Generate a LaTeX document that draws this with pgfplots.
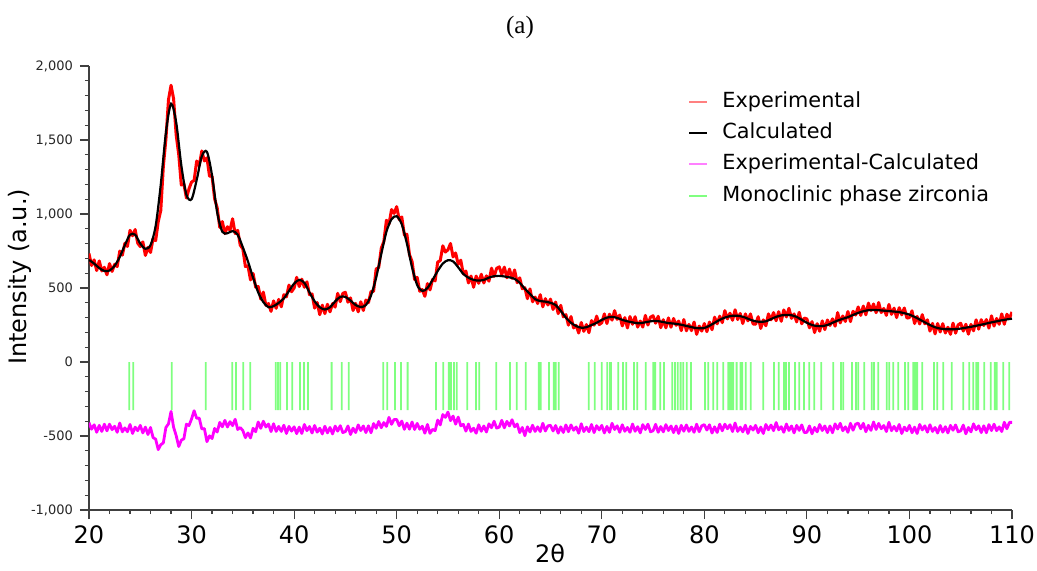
\documentclass[border=0pt]{standalone}
\usepackage{pgfplots}
\pgfplotsset{compat=1.18}
\usepackage{pgfplotstable}
\usepackage{fontspec}
\setmainfont{DejaVu Sans}
\newfontfamily\seriffont{Liberation Serif}

\pgfplotstableread{
x y
20 690
20.5 665
21 635
21.5 615
22 618
22.5 650
23 710
23.5 790
24 860
24.5 860
25 800
25.5 765
26 790
26.5 920
27 1200
27.5 1550
28 1745
28.5 1620
29 1330
29.5 1130
30 1100
30.5 1230
31 1390
31.5 1420
32 1260
32.5 1010
33 880
33.5 870
34 885
34.5 860
35 775
35.5 680
36 570
36.5 470
37 405
37.5 370
38 378
38.5 400
39 430
39.5 480
40 530
40.5 555
41 535
41.5 470
42 410
42.5 370
43 355
43.5 370
44 410
44.5 440
45 440
45.5 415
46 385
46.5 372
47 385
47.5 450
48 570
48.5 730
49 880
49.5 965
50 985
50.5 930
51 800
51.5 640
52 520
52.5 480
53 500
53.5 555
54 615
54.5 665
55 688
55.5 680
56 640
56.5 595
57 570
57.5 555
58 550
58.5 555
59 570
59.5 580
60 582
60.5 578
61 572
61.5 562
62 535
62.5 495
63 460
63.5 425
64 412
64.5 408
65 400
65.5 385
66 345
66.5 300
67 265
67.5 243
68 232
68.5 235
69 250
69.5 265
70 285
70.5 300
71 305
71.5 298
72 285
72.5 275
73 268
73.5 262
74 265
74.5 272
75 277
75.5 276
76 270
76.5 263
77 260
77.5 255
78 248
78.5 240
79 232
79.5 228
80 230
80.5 245
81 265
81.5 285
82 300
82.5 310
83 313
83.5 310
84 300
84.5 285
85 275
85.5 272
86 275
86.5 290
87 305
87.5 315
88 318
88.5 316
89 305
89.5 285
90 265
90.5 250
91 243
91.5 243
92 250
92.5 265
93 280
93.5 292
94 303
94.5 318
95 332
95.5 343
96 350
96.5 352
97 350
97.5 347
98 344
98.5 341
99 337
99.5 330
100 320
100.5 305
101 287
101.5 268
102 250
102.5 235
103 226
103.5 222
104 221
104.5 222
105 226
105.5 232
106 238
106.5 245
107 252
107.5 260
108 268
108.5 275
109 282
109.5 288
110 293
}\calctable

\pgfplotstableread{
x e d
20 733 -410
20.25 652 -454
20.5 690 -424
20.75 618 -475
21 683 -428
21.25 615 -469
21.5 640 -420
21.75 589 -465
22 665 -420
22.25 612 -457
22.5 660 -434
22.75 645 -475
23 750 -412
23.25 722 -472
23.5 803 -445
23.75 781 -471
24 890 -422
24.25 853 -483
24.5 895 -440
24.75 803 -464
25 780 -428
25.25 812 -479
25.5 720 -440
25.75 775 -490
26 740 -442
26.25 835 -511
26.5 820 -521
26.75 948 -592
27 1024 -559
27.25 1322 -546
27.5 1505 -442
27.75 1772 -418
28 1870 -334
28.25 1778 -441
28.5 1534 -497
28.75 1402 -571
29 1196 -528
29.25 1204 -519
29.5 1108 -420
29.75 1170 -429
30 1216 -385
30.25 1227 -329
30.5 1358 -380
30.75 1326 -379
31 1426 -452
31.25 1358 -450
31.5 1380 -538
31.75 1256 -499
32 1254 -517
32.25 1103 -449
32.5 1042 -473
32.75 910 -408
33 949 -438
33.25 868 -394
33.5 914 -439
33.75 890 -403
34 968 -430
34.25 868 -387
34.5 890 -456
34.75 789 -443
35 765 -463
35.25 645 -511
35.5 650 -479
35.75 555 -513
36 598 -448
36.25 506 -471
36.5 510 -405
36.75 425 -448
37 472 -400
37.25 383 -439
37.5 395 -419
37.75 342 -470
38 413 -417
38.25 363 -469
38.5 423 -435
38.75 373 -469
39 455 -427
39.25 440 -483
39.5 520 -435
39.75 475 -467
40 500 -438
40.25 572 -484
40.5 510 -440
40.75 560 -483
41 505 -422
41.25 542 -464
41.5 455 -436
41.75 460 -480
42 364 -429
42.25 402 -474
42.5 320 -447
42.75 384 -486
43 327 -434
43.25 390 -479
43.5 339 -442
43.75 395 -486
44 371 -433
44.25 464 -467
44.5 408 -430
44.75 464 -477
45 471 -470
45.25 404 -432
45.5 433 -490
45.75 348 -447
46 396 -477
46.25 339 -425
46.5 407 -463
46.75 348 -432
47 419 -477
47.25 401 -431
47.5 477 -478
47.75 477 -416
48 629 -448
48.25 638 -402
48.5 769 -444
48.75 814 -409
49 958 -435
49.25 931 -374
49.5 1030 -421
49.75 1004 -388
50 1050 -388
50.25 962 -431
50.5 980 -399
50.75 858 -455
51 863 -413
51.25 725 -454
51.5 680 -405
51.75 557 -456
52 572 -415
52.25 478 -454
52.5 490 -434
52.75 444 -481
53 530 -422
53.25 487 -482
53.5 558 -455
53.75 548 -464
54 675 -392
54.25 685 -425
54.5 785 -355
54.75 743 -374
55 758 -338
55.25 801 -396
55.5 710 -365
55.75 737 -420
56 660 -372
56.25 688 -431
56.5 595 -421
56.75 615 -467
57 534 -419
57.25 581 -469
57.5 505 -447
57.75 581 -481
58 532 -424
58.25 593 -468
58.5 534 -432
58.75 582 -473
59 546 -418
59.25 634 -444
59.5 578 -400
59.75 633 -447
60 643 -440
60.25 592 -394
60.5 641 -445
60.75 569 -401
61 628 -432
61.25 565 -390
61.5 622 -438
61.75 536 -419
62 569 -477
62.25 495 -442
62.5 502 -498
62.75 428 -438
63 494 -473
63.25 407 -427
63.5 439 -469
63.75 395 -438
64 455 -470
64.25 373 -414
64.5 428 -466
64.75 385 -431
65 425 -428
65.25 355 -466
65.5 405 -429
65.75 327 -481
66 383 -438
66.25 305 -476
66.5 320 -425
66.75 249 -471
67 307 -425
67.25 230 -461
67.5 248 -439
67.75 196 -481
68 267 -417
68.25 207 -470
68.5 253 -440
68.75 198 -471
69 280 -422
69.25 249 -477
69.5 310 -430
69.75 253 -459
70 265 -428
70.25 325 -479
70.5 260 -435
70.75 323 -475
71 283 -414
71.25 347 -456
71.5 288 -431
71.75 317 -475
72 244 -424
72.25 300 -468
72.5 230 -442
72.75 307 -475
73 255 -419
73.25 306 -468
73.5 236 -437
73.75 277 -479
74 236 -423
74.25 315 -456
74.5 250 -420
74.75 303 -471
75 313 -465
75.25 262 -421
75.5 309 -475
75.75 232 -436
76 286 -472
76.25 231 -423
76.5 298 -463
76.75 235 -432
77 294 -477
77.25 248 -432
77.5 277 -483
77.75 212 -428
78 287 -468
78.25 211 -425
78.5 254 -469
78.75 212 -439
79 270 -475
79.25 187 -420
79.5 243 -471
79.75 209 -431
80 260 -423
80.25 205 -460
80.5 270 -424
80.75 218 -480
81 303 -438
81.25 258 -476
81.5 310 -420
81.75 266 -465
82 347 -420
82.25 291 -451
82.5 330 -424
82.75 282 -470
83 353 -412
83.25 287 -469
83.5 328 -440
83.75 260 -472
84 325 -427
84.25 278 -483
84.5 325 -435
84.75 257 -460
85 255 -428
85.25 306 -478
85.5 227 -440
85.75 285 -483
86 245 -422
86.25 325 -458
86.5 285 -426
86.75 334 -464
87 279 -409
87.25 340 -458
87.5 275 -437
87.75 352 -475
88 305 -419
88.25 363 -463
88.5 295 -432
88.75 325 -479
89 271 -428
89.25 336 -462
89.5 258 -425
89.75 297 -477
90 291 -475
90.25 231 -432
90.5 273 -485
90.75 199 -442
91 259 -472
91.25 208 -422
91.5 278 -463
91.75 219 -432
92 284 -477
92.25 247 -432
92.5 292 -478
92.75 242 -418
93 334 -453
93.25 264 -414
93.5 311 -464
93.75 274 -438
94 341 -475
94.25 273 -414
94.5 343 -461
94.75 317 -420
95 372 -413
95.25 315 -451
95.5 378 -414
95.75 319 -471
96 398 -428
96.25 348 -462
96.5 392 -405
96.75 333 -456
97 402 -415
97.25 334 -451
97.5 362 -429
97.75 315 -470
98 389 -407
98.25 322 -464
98.5 364 -435
98.75 300 -466
99 367 -422
99.25 319 -483
99.5 365 -440
99.75 297 -465
100 300 -428
100.25 346 -478
100.5 260 -440
100.75 308 -483
101 257 -422
101.25 320 -459
101.5 258 -431
101.75 285 -474
102 209 -424
102.25 261 -469
102.5 190 -442
102.75 260 -480
103 203 -429
103.25 259 -474
103.5 196 -437
103.75 235 -479
104 187 -428
104.25 263 -461
104.5 195 -425
104.75 251 -472
105 262 -465
105.25 209 -426
105.5 255 -485
105.75 188 -442
106 254 -472
106.25 211 -418
106.5 285 -458
106.75 222 -431
107 286 -477
107.25 247 -431
107.5 287 -478
107.75 229 -423
108 312 -463
108.25 243 -420
108.5 294 -464
108.75 255 -438
109 325 -470
109.25 255 -407
109.5 323 -451
109.75 294 -408
110 338 -408
}\exptable

\pgfplotstableread{
x y
23.93 -325
24.32 -325
28.06 -325
31.38 -325
33.97 -325
34.33 -325
35.04 -325
35.73 -325
38.20 -325
38.43 -325
38.65 -325
39.31 -325
39.82 -325
40.57 -325
40.96 -325
41.35 -325
43.66 -325
44.64 -325
45.32 -325
48.70 -325
49.09 -325
49.84 -325
50.42 -325
51.07 -325
53.83 -325
54.55 -325
55.07 -325
55.20 -325
55.30 -325
55.59 -325
55.85 -325
56.89 -325
57.73 -325
58.06 -325
59.71 -325
61.05 -325
61.70 -325
62.58 -325
63.85 -325
64.04 -325
64.85 -325
65.31 -325
65.51 -325
65.80 -325
68.72 -325
69.31 -325
69.99 -325
70.54 -325
70.80 -325
70.90 -325
71.61 -325
72.07 -325
72.39 -325
73.14 -325
73.46 -325
74.28 -325
75.02 -325
75.22 -325
75.70 -325
76.06 -325
76.87 -325
77.14 -325
77.40 -325
77.69 -325
77.95 -325
78.28 -325
78.70 -325
80.06 -325
80.38 -325
80.87 -325
81.26 -325
81.85 -325
82.33 -325
82.50 -325
82.66 -325
82.82 -325
83.15 -325
83.54 -325
83.70 -325
84.03 -325
84.52 -325
85.75 -325
86.79 -325
87.25 -325
87.77 -325
87.96 -325
88.26 -325
88.84 -325
89.26 -325
89.72 -325
90.23 -325
90.72 -325
91.40 -325
92.57 -325
93.32 -325
93.55 -325
94.40 -325
94.79 -325
95.01 -325
95.60 -325
96.32 -325
96.54 -325
96.96 -325
97.78 -325
98.03 -325
98.42 -325
98.91 -325
99.56 -325
99.88 -325
100.37 -325
100.57 -325
100.76 -325
101.25 -325
102.39 -325
102.71 -325
103.30 -325
104.12 -325
105.25 -325
105.83 -325
106.22 -325
106.51 -325
106.71 -325
107.30 -325
107.92 -325
108.31 -325
108.50 -325
109.15 -325
109.73 -325
}\phasetable

\definecolor{expred}{RGB}{255,0,0}
\definecolor{diffmag}{RGB}{255,0,255}
\definecolor{phgreen}{RGB}{0,255,0}
\definecolor{axgray}{RGB}{64,64,64}

\begin{document}
\begin{tikzpicture}
\useasboundingbox (-44.5pt,-30pt) rectangle (474pt,255pt);
\begin{axis}[
  scale only axis, width=461.5pt, height=222pt,
  xmin=20, xmax=110, ymin=-1000, ymax=2000,
  axis x line*=bottom, axis y line*=left,
  axis line style={line width=0.8pt, color=axgray},
  xtick={20,30,...,110}, ytick={-1000,-500,...,2000},
  minor x tick num=4, minor y tick num=4,
  tick align=outside, major tick length=4.5pt, minor tick length=2pt,
  every tick/.style={line width=0.6pt, color=axgray},
  scaled y ticks=false,
  /pgf/number format/assume math mode=true,
  yticklabel style={font=\fontsize{6.5}{8}\selectfont, /pgf/number format/1000 sep={,}, text=black!85},
  xticklabel style={font=\fontsize{12}{14}\selectfont, text=black},
  xlabel={2θ}, ylabel={Intensity (a.u.)},
  xlabel style={font=\fontsize{12}{14}\selectfont, at={(axis description cs:0.4995,-0.0968)}, anchor=center},
  ylabel style={font=\fontsize{12}{14}\selectfont, at={(axis description cs:-0.0748,0.525)}, anchor=center},
  legend image code/.code={\draw[#1] (0pt,0pt) -- (9pt,0pt); \path (16pt,0pt);},
  legend cell align=left,
  legend style={at={(axis description cs:0.649,0.949)}, anchor=north west, draw=none, fill=none,
    inner sep=0pt, row sep=3.2pt, font=\fontsize{10.4}{12}\selectfont,
    nodes={inner xsep=0pt, inner ysep=1pt, text height=8pt, text depth=2.5pt}},
]
\addplot[forget plot, ybar, bar width=0.9pt, draw=none, fill=phgreen, fill opacity=0.5] table[x=x, y=y] {\phasetable};
\addplot[forget plot, color=expred, line width=1.5pt, line join=round] table[x=x, y=e] {\exptable};
\addplot[forget plot, color=black, line width=1.1pt, smooth, tension=0.5] table[x=x, y=y] {\calctable};
\addplot[forget plot, color=diffmag, line width=1.4pt, line join=round] table[x=x, y=d] {\exptable};
\addlegendimage{color=expred!50, line width=1pt}
\addlegendentry{Experimental}
\addlegendimage{color=black, line width=1pt}
\addlegendentry{Calculated}
\addlegendimage{color=diffmag!50, line width=1pt}
\addlegendentry{Experimental-Calculated}
\addlegendimage{color=phgreen!50, line width=1pt}
\addlegendentry{Monoclinic phase zirconia}
\end{axis}
\node[font=\seriffont\fontsize{12.5}{14}\selectfont] at (215.5pt,241.5pt) {(a)};
\end{tikzpicture}
\end{document}
